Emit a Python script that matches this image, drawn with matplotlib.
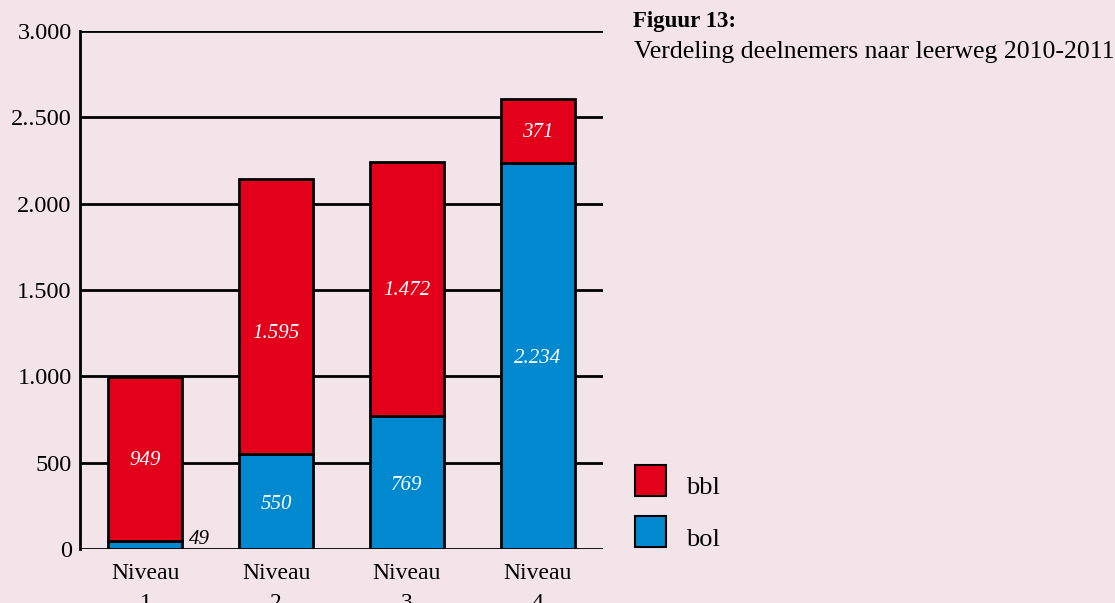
import numpy as np
import matplotlib.pyplot as plt
from matplotlib.patches import Rectangle

# data
niveaus = ['Niveau\n1', 'Niveau\n2', 'Niveau\n3', 'Niveau\n4']
bol = [49, 550, 769, 2234]
bbl = [949, 1595, 1472, 371]
bol_lbl = ['49', '550', '769', '2.234']
bbl_lbl = ['949', '1.595', '1.472', '371']
yticks = [0, 500, 1000, 1500, 2000, 2500, 3000]
ytick_lbl = ['0', '500', '1.000', '1.500', '2.000', '2..500', '3.000']

rood = '#e2001a'
blauw = '#0089cf'
achtergrond = '#f3e4ea'

plt.rcParams['font.family'] = ['Liberation Serif', 'DejaVu Serif']

fig = plt.figure(figsize=(11.15, 6.03), dpi=100, facecolor=achtergrond)
ax = fig.add_axes([80 / 1115, 1 - 549 / 603, 523 / 1115, 518 / 603])
ax.set_facecolor(achtergrond)

x = np.arange(len(niveaus))
w = 0.565

# gridlines
for yt in yticks:
    ax.axhline(yt, color='black', lw=2, zorder=1)

ax.bar(x, bol, w, color=blauw, edgecolor='black', linewidth=2, zorder=3)
ax.bar(x, bbl, w, bottom=bol, color=rood, edgecolor='black', linewidth=2, zorder=3)

# label van niveau 2 (bbl) staat in het origineel wat lager
verschuif = [0, -90, 0, 0]
for i in range(len(x)):
    ax.text(x[i], bol[i] + bbl[i] / 2 - 10 + verschuif[i], bbl_lbl[i], color='white',
            style='italic', ha='center', va='center', fontsize=15, zorder=4)
    if i == 0:
        ax.text(x[i] + w / 2 + 0.05, bol[i] + 5, bol_lbl[i], color='black', style='italic',
                ha='left', va='center', fontsize=15, zorder=4)
    else:
        ax.text(x[i], bol[i] / 2 - 15, bol_lbl[i], color='white', style='italic',
                ha='center', va='center', fontsize=15, zorder=4)

ax.set_xlim(-0.5, 3.5)
ax.set_ylim(0, 3000)
ax.set_yticks(yticks)
ax.set_yticklabels(ytick_lbl, fontsize=17.5)
ax.set_xticks(x)
ax.set_xticklabels(niveaus, fontsize=17, linespacing=1.6)
ax.tick_params(length=0)
ax.tick_params(axis='y', pad=6)
ax.tick_params(axis='x', pad=10)
for s in ['top', 'right', 'bottom']:
    ax.spines[s].set_visible(False)
ax.spines['left'].set_linewidth(2)
ax.spines['left'].set_zorder(5)

# titel
fig.text(633 / 1115, 1 - 27 / 603, 'Figuur 13:', fontsize=16.5, fontweight='bold', va='baseline')
fig.text(634 / 1115, 1 - 58 / 603, 'Verdeling deelnemers naar leerweg 2010-2011', fontsize=18.5, va='baseline')

# legenda
for naam, kleur, ytop, basis in [('bbl', rood, 465, 494), ('bol', blauw, 516, 546)]:
    fig.patches.append(Rectangle((635 / 1115, 1 - (ytop + 31) / 603), 31 / 1115, 31 / 603,
                                 transform=fig.transFigure, facecolor=kleur,
                                 edgecolor='black', linewidth=1.5))
    fig.text(686 / 1115, 1 - basis / 603, naam, fontsize=19, va='baseline')

fig.savefig('out.png', dpi=100, facecolor=achtergrond)
